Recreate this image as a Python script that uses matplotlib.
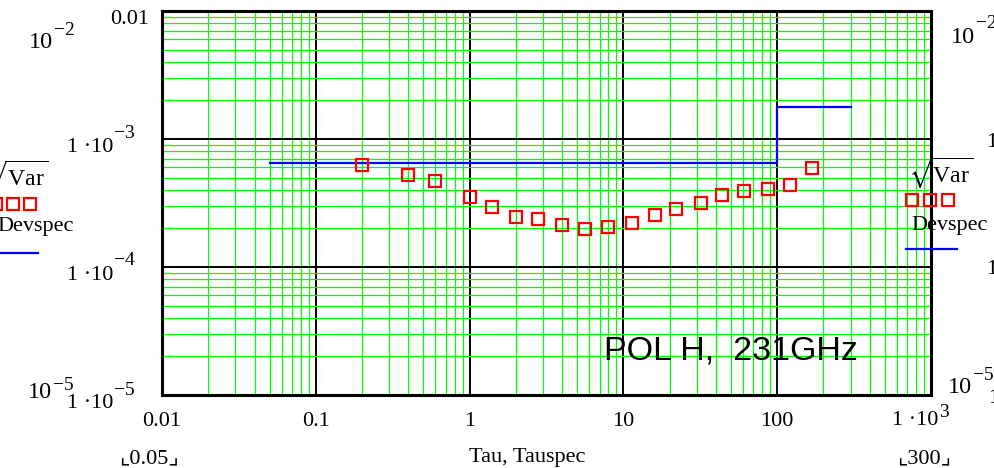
import matplotlib
matplotlib.use("Agg")
import matplotlib.pyplot as plt
import matplotlib.transforms as mtransforms

plt.rcParams['font.family'] = ['Liberation Serif', 'DejaVu Serif']
plt.rcParams['mathtext.fontset'] = 'custom'
plt.rcParams['mathtext.rm'] = 'Liberation Serif'
plt.rcParams['mathtext.it'] = 'Liberation Serif:italic'
plt.rcParams['mathtext.fallback'] = 'stix'

# Allan deviation (sqrt Var) vs Tau
tau = [0.2, 0.4, 0.6, 1.0, 1.4, 2.0, 2.8, 4.0, 5.6, 8.0, 11.3, 16, 22, 32,
       44, 61, 87, 121, 168]
sqrt_var = [6.26e-4, 5.23e-4, 4.70e-4, 3.52e-4, 2.94e-4, 2.46e-4, 2.37e-4,
            2.13e-4, 1.98e-4, 2.05e-4, 2.21e-4, 2.55e-4, 2.84e-4, 3.16e-4,
            3.65e-4, 3.93e-4, 4.05e-4, 4.35e-4, 5.97e-4]

# spec line (step)
tauspec = [0.05, 100, 100, 300]
devspec = [6.5e-4, 6.5e-4, 1.77e-3, 1.77e-3]

xticks = [0.01, 0.1, 1, 10, 100]
xticklabels = ['0.01', '0.1', '1', '10', '100']

W, H = 994, 468
fig = plt.figure(figsize=(W / 100, H / 100), dpi=100)
ax = fig.add_axes([162 / W, 1 - 395 / H, (931 - 162) / W, (395 - 11) / H])

ax.set_xscale('log')
ax.set_yscale('log')
ax.set_xlim(0.01, 1000)
ax.set_ylim(1e-5, 1e-2)

ax.grid(which='minor', color='#00ff00', lw=0.9)
ax.grid(which='major', color='black', lw=1.4)
ax.set_axisbelow(True)
ax.tick_params(which='both', length=0, labelbottom=False, labelleft=False)
for s in ax.spines.values():
    s.set_linewidth(2.2)

ax.plot(tauspec, devspec, color='#0000ff', lw=1.6, zorder=3)
ax.plot(tau, sqrt_var, ls='none', marker='s', ms=8.5, mfc='none',
        mec='#ff0000', mew=1.6, zorder=4)

ax.text(604 / W, 1 - 359 / H, 'POL H,  231GHz', transform=fig.transFigure,
        family='Liberation Sans', fontsize=24.5, va='baseline', ha='left')

def px(x, y, s, **kw):
    kw.setdefault('fontsize', 16)
    kw.setdefault('va', 'baseline')
    fig.text(x / W, 1 - y / H, s, **kw)

def pw(split, yb, base, exp, ye, bsize=16, esize=14):
    # mathcad style power: base right-aligned, exponent raised to the right
    px(split, yb, base, ha='right', fontsize=bsize)
    px(split + 1, ye, exp, ha='left', fontsize=esize)

# x tick labels
trans = mtransforms.blended_transform_factory(ax.transData, fig.transFigure)
for v, lab in zip(xticks, xticklabels):
    ax.text(v, 1 - 426 / H, lab, transform=trans, fontsize=16,
            ha='center', va='baseline')
pw(938, 425, '1 \u00b710', '3', 417)
px(527, 462, 'Tau, Tauspec', ha='center')
px(149, 463, '\u231e0.05\u231f', ha='center',
   family=['Liberation Serif', 'DejaVu Sans'])
px(924, 463, '\u231e300\u231f', ha='center',
   family=['Liberation Serif', 'DejaVu Sans'])

# left y labels
px(149, 24, '0.01', ha='right')
pw(53, 48, '10', '\u22122', 35, bsize=17.5)
pw(113, 152, '1 \u00b710', '\u22123', 138)
pw(113, 280, '1 \u00b710', '\u22124', 265)
pw(113, 408, '1 \u00b710', '\u22125', 395)
pw(52, 398, '10', '\u22125', 390, bsize=17.5)

# right y labels
pw(975, 43, '10', '\u22122', 28, bsize=17.5)
px(986, 147, '1', ha='left')
px(986, 274, '1', ha='left')
pw(972, 393, '10', '\u22125', 380, bsize=17.5)
px(988, 403, '1', ha='left')

# legend (left, clipped)
px(48, 185, r'$\sqrt{\mathrm{Var}}$', ha='right', fontsize=17)
px(74, 231, 'Devspec', ha='right')
# legend (right)
px(908, 182, r'$\sqrt{\mathrm{Var}}$', ha='left', fontsize=17)
px(911, 230, 'Devspec', ha='left')

for xs, y in (([-4, 13, 30], 203.5), ([911.5, 929.5, 947.5], 199.5)):
    fig.add_artist(plt.Line2D([x / W for x in xs], [1 - y / H] * 3,
                              ls='none', marker='s', ms=8.5, mfc='none',
                              mec='#ff0000', mew=1.6))
fig.add_artist(plt.Line2D([0, 38 / W], [1 - 253 / H] * 2, color='#0000ff', lw=1.6))
fig.add_artist(plt.Line2D([906 / W, 957 / W], [1 - 249 / H] * 2, color='#0000ff', lw=1.6))

fig.savefig('out.png', dpi=100)
